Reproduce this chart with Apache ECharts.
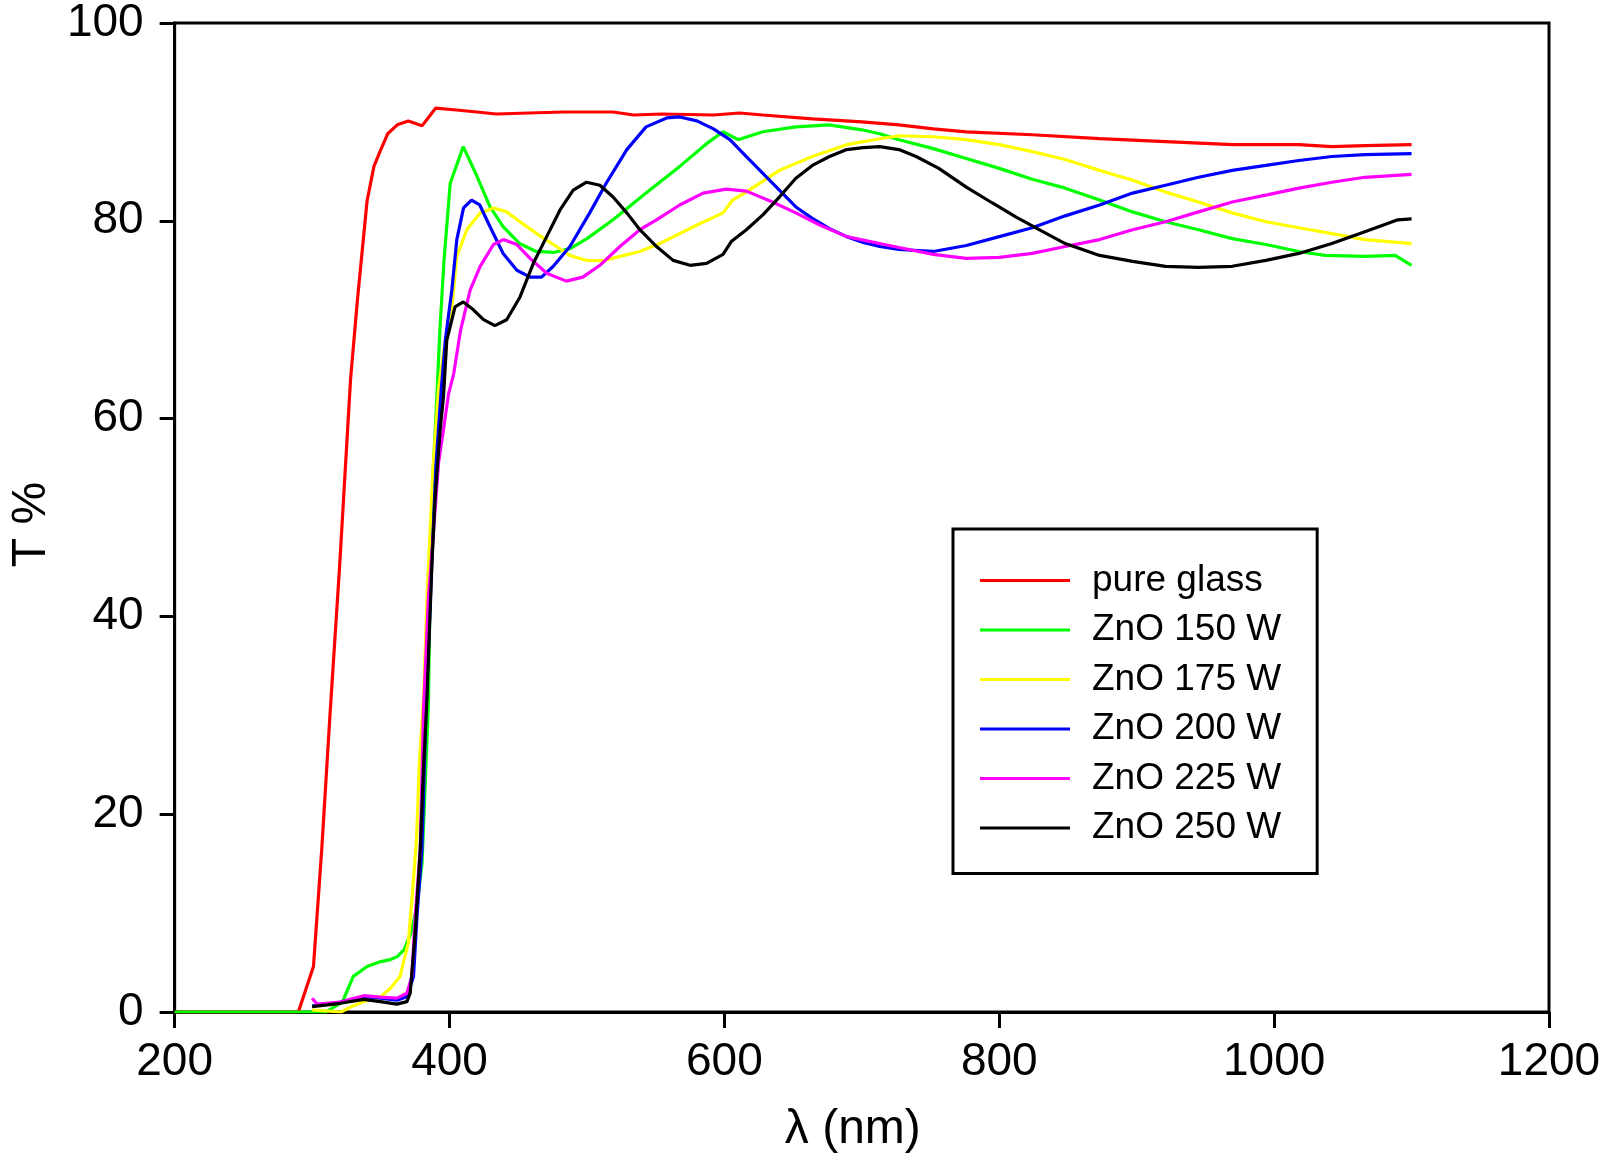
<!DOCTYPE html>
<html>
<head>
<meta charset="utf-8">
<script src="https://cdn.jsdelivr.net/npm/echarts@6/dist/echarts.min.js"></script>
<style>
  html, body { margin: 0; padding: 0; background: #fff; }
  #chart { width: 1605px; height: 1168px; }
</style>
</head>
<body>
<div id="chart"></div>
<script>
// ---- data (wavelength nm, transmittance %) ----
const seriesNames = ['pure glass', 'ZnO 150 W', 'ZnO 175 W', 'ZnO 200 W', 'ZnO 225 W', 'ZnO 250 W'];
const seriesColors = ['#ff0000', '#00ff00', '#ffff00', '#0000ff', '#ff00ff', '#000000'];
const xTicks = [200, 400, 600, 800, 1000, 1200];
const yTicks = [0, 20, 40, 60, 80, 100];

const pureGlass = [[200,0],[290,0],[301,4.6],[307,16.4],[313,30],[320,45],[328,64],[333,72],[340,82],[345,85.5],[350,87.2],[355,88.8],[362,89.7],[370,90.1],[380,89.6],[390,91.4],[405,91.2],[420,91.0],[434,90.8],[458,90.9],[483,91.0],[519,91.0],[534,90.7],[555,90.8],[592,90.7],[611,90.9],[628,90.7],[664,90.3],[700,90.0],[727,89.7],[752,89.3],[776,89.0],[824,88.7],[873,88.3],[921,88.0],[970,87.7],[1018,87.7],[1042,87.5],[1066,87.6],[1100,87.7]];

const zno150 = [[200,0],[310,0],[322,1.0],[330,3.6],[340,4.6],[350,5.1],[357,5.3],[362,5.6],[367,6.3],[372,8],[376,10.5],[380,15],[382.3,23],[384.7,31.5],[386,45],[388.4,55.5],[390.8,62.2],[393,69],[396,76],[400.5,83.8],[410,87.5],[420,84.5],[429.5,81.4],[439,79.4],[451,77.7],[463,76.9],[475.5,76.8],[488,77.2],[500,78.2],[519,80.1],[543,82.8],[567.5,85.5],[587,87.8],[599,89.0],[610,88.2],[628,89.0],[652,89.5],[676,89.7],[700,89.2],[713,88.8],[727,88.2],[752,87.3],[776,86.3],[800,85.3],[824,84.2],[848,83.3],[873,82.1],[897,80.9],[921,79.9],[945,79.1],[969.5,78.2],[994,77.6],[1018,76.9],[1037,76.5],[1066,76.4],[1088,76.5],[1100,75.5]];

const zno175 = [[300,0.2],[321,0],[328,0.5],[337.5,1.05],[350,1.55],[357,2.4],[364,3.6],[370,7],[373,12],[376,17.5],[378,25],[381,31.5],[384,43],[388,55],[392,63],[396,67],[401.7,71.3],[405.3,76.4],[412.6,79.1],[422.3,80.8],[432,81.3],[441.6,80.9],[451.3,79.9],[463.4,78.7],[475.5,77.6],[487.6,76.5],[499.7,76.0],[512,75.97],[524,76.4],[538.5,76.9],[553,77.7],[567.5,78.7],[582,79.7],[599,80.8],[606,82.1],[618,83.1],[640,85.1],[664,86.5],[689,87.7],[713,88.3],[727,88.6],[752,88.5],[776,88.2],[800,87.7],[824,87.0],[848,86.2],[873,85.1],[897,84.1],[921,82.9],[945,81.9],[969.5,80.8],[994,79.9],[1018,79.3],[1042,78.7],[1066,78.1],[1100,77.7]];

const zno200 = [[300,0.6],[320.6,1.0],[337.5,1.55],[349.6,1.4],[361.7,1.2],[369,1.55],[373.8,3.6],[376.3,9.6],[379.9,16.4],[383,31],[387,45],[390,55],[394,63],[397,68],[401.7,73],[405.3,78.1],[410.2,81.3],[416,82.1],[422,81.6],[429.5,79.4],[439,76.7],[449,75.0],[458.6,74.3],[467,74.3],[475.5,75.4],[487.6,77.4],[502,80.8],[514,83.8],[529,87.2],[543,89.5],[558,90.4],[567.5,90.5],[580,90.1],[592,89.3],[604,88.2],[616,86.5],[628,84.8],[640,83.1],[652,81.4],[664,80.25],[676.5,79.2],[689,78.4],[701,77.8],[713,77.4],[727,77.1],[752,76.9],[776,77.5],[800,78.4],[824,79.3],[848,80.5],[873,81.6],[897,82.8],[921,83.6],[945,84.4],[969.5,85.1],[994,85.6],[1018,86.1],[1042,86.5],[1066,86.7],[1100,86.8]];

const zno225 = [[300,1.4],[303.6,0.8],[320.6,1.0],[337.5,1.65],[349.6,1.5],[361.7,1.4],[369,1.9],[372.6,3.6],[375,9.6],[378.7,16.4],[381.1,30.6],[384.7,42],[388.4,48.7],[392,55.5],[395.6,58.9],[399.3,62.5],[403,64.5],[408,68.9],[415,73],[422.3,75.4],[432,77.6],[439.2,78.1],[449,77.6],[458.6,76.2],[470.7,74.7],[485,73.9],[497,74.3],[509.4,75.5],[524,77.4],[538.5,79.1],[550.6,80.1],[567.5,81.6],[584.5,82.8],[601.4,83.2],[616,83.0],[635,81.9],[652,80.8],[669,79.6],[689,78.4],[713,77.7],[727,77.3],[752,76.6],[776,76.2],[800,76.3],[824,76.7],[848,77.4],[873,78.1],[897,79.1],[921,79.9],[945,80.9],[969.5,81.9],[994,82.6],[1018,83.3],[1042,83.9],[1066,84.4],[1100,84.7]];

const zno250 = [[300,0.54],[320.6,0.88],[337.5,1.28],[349.6,1.05],[361.7,0.8],[369,1.05],[371.4,1.9],[375,8],[378.7,16.4],[381.1,24.8],[383.5,31.5],[387.2,45.4],[389.6,52.1],[393.2,58.9],[395.6,62.2],[398,67.9],[404,71.3],[410,71.8],[417.4,71],[424.7,70],[433,69.4],[441.6,70],[451.3,72.3],[461,75.7],[470.7,78.4],[480.4,81.1],[490,83.1],[499.7,83.9],[509.4,83.6],[519,82.4],[529,80.8],[538.5,79.1],[550.6,77.4],[562.7,76.0],[575,75.5],[587,75.7],[599,76.6],[605,77.9],[616,79.1],[628,80.6],[640,82.4],[652,84.3],[664,85.6],[676.5,86.5],[689,87.2],[701,87.4],[713,87.5],[727,87.2],[739.5,86.5],[756,85.3],[776,83.4],[795,81.8],[812,80.4],[829,79.1],[848,77.7],[873,76.5],[897,75.9],[921,75.4],[945,75.3],[969.5,75.4],[994,76.0],[1018,76.7],[1042,77.7],[1066,78.9],[1090,80.1],[1100,80.2]];

const allData = [pureGlass, zno150, zno175, zno200, zno225, zno250];

// ---- chart ----
const FONT = '"Liberation Sans", Arial, Helvetica, sans-serif';
const chart = echarts.init(document.getElementById('chart'), null, { renderer: 'canvas' });

const option = {
  animation: false,
  backgroundColor: '#ffffff',
  textStyle: { fontFamily: FONT, color: '#000' },
  grid: {
    left: 174, top: 23, width: 1375, height: 989,
    show: true, borderColor: '#000', borderWidth: 3, backgroundColor: 'transparent'
  },
  xAxis: {
    type: 'value', min: xTicks[0], max: xTicks[xTicks.length - 1], interval: 200,
    name: 'λ (nm)', nameLocation: 'middle', nameGap: 94,
    nameTextStyle: { fontSize: 48, color: '#000', fontFamily: FONT, padding: [0, 18, 0, 0] },
    axisLine: { show: true, lineStyle: { color: '#000', width: 3 } },
    axisTick: { show: true, inside: false, length: 16, lineStyle: { color: '#000', width: 3 } },
    axisLabel: { fontSize: 46, color: '#000', margin: 27, fontFamily: FONT, formatter: v => String(v) },
    splitLine: { show: false }
  },
  yAxis: {
    type: 'value', min: yTicks[0], max: yTicks[yTicks.length - 1], interval: 20,
    name: 'T %', nameLocation: 'middle', nameGap: 118,
    nameTextStyle: { fontSize: 48, color: '#000', fontFamily: FONT, padding: [0, 14, 0, 0] },
    axisLine: { show: true, lineStyle: { color: '#000', width: 3 } },
    axisTick: { show: true, inside: false, length: 15, lineStyle: { color: '#000', width: 3 } },
    axisLabel: { fontSize: 46, color: '#000', margin: 31, fontFamily: FONT, formatter: v => String(v) },
    splitLine: { show: false }
  },
  legend: {
    show: true, orient: 'vertical', left: 953, top: 529,
    padding: [33, 36, 27, 27], borderColor: '#000', borderWidth: 3,
    backgroundColor: '#fff',
    icon: 'rect', itemWidth: 90, itemHeight: 3, itemGap: 12.5,
    textStyle: { fontSize: 37, color: '#000', fontFamily: FONT, lineHeight: 36, padding: [0, 0, 0, 17] },
    data: seriesNames
  },
  series: seriesNames.map((n, i) => ({
    name: n, type: 'line', data: allData[i],
    showSymbol: false, symbol: 'none',
    lineStyle: { color: seriesColors[i], width: 3.2 },
    itemStyle: { color: seriesColors[i] },
    z: 2 + i
  }))
};
chart.setOption(option);
</script>
</body>
</html>
